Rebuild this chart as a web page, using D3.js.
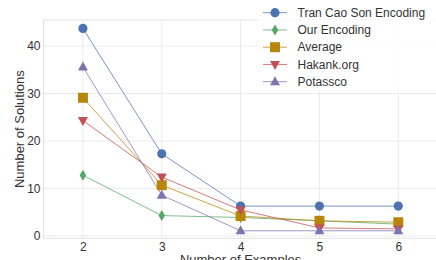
<!DOCTYPE html>
<html>
<head>
<meta charset="utf-8">
<script src="https://cdn.jsdelivr.net/npm/d3@7"></script>
<style>
  body { margin: 0; background: #fff; }
  svg { display: block; font-family: "Liberation Sans", Arial, sans-serif; }
</style>
</head>
<body>
<svg id="chart" width="436" height="260"></svg>
<script>
// data
var examples = [2, 3, 4, 5, 6]
var tranCaoSon = [43.7, 17.3, 6.3, 6.3, 6.3]
var ourEncoding = [12.8, 4.3, 3.9, 3.2, 2.5]
var average = [29.1, 10.7, 4.2, 3.2, 2.9]
var hakank = [24.3, 12.4, 5.5, 1.7, 1.5]
var potassco = [35.6, 8.6, 1.1, 1.1, 1.1]
var yTicks = [0, 10, 20, 30, 40]

var series = [
  { name: 'Tran Cao Son Encoding', values: tranCaoSon, color: '#4c72b0', shape: 'circle' },
  { name: 'Our Encoding', values: ourEncoding, color: '#55a868', shape: 'diamond' },
  { name: 'Average', values: average, color: '#b8860b', shape: 'square' },
  { name: 'Hakank.org', values: hakank, color: '#c44e52', shape: 'tridown' },
  { name: 'Potassco', values: potassco, color: '#8172b2', shape: 'triup' }
]

var svg = d3.select('#chart')
var pLeft = 43.5, pRight = 437.7, pTop = 20, pBottom = 238.3

var x = d3.scaleLinear().domain([1.5, 6.5]).range([pLeft, pRight])
var y = d3.scaleLinear().domain([-0.48, 45.47]).range([pBottom, pTop])

// background grid
var grid = svg.append('g')
grid.selectAll(null)
  .data(yTicks)
  .enter().append('line')
  .attr('x1', pLeft).attr('x2', pRight)
  .attr('y1', d => y(d)).attr('y2', d => y(d))
  .attr('stroke', '#ebebeb').attr('stroke-width', 1)
grid.selectAll(null)
  .data(examples)
  .enter().append('line')
  .attr('x1', d => x(d)).attr('x2', d => x(d))
  .attr('y1', pTop).attr('y2', pBottom)
  .attr('stroke', '#ebebeb').attr('stroke-width', 1)

svg.append('rect')
  .attr('x', pLeft).attr('y', pTop)
  .attr('width', pRight - pLeft).attr('height', pBottom - pTop)
  .attr('fill', 'none').attr('stroke', '#e3e3e3').attr('stroke-width', 1)

// axes
var xAxis = d3.axisBottom(x).tickValues(examples).tickFormat(d3.format('d')).tickSize(0).tickPadding(4)
var yAxis = d3.axisLeft(y).tickValues(yTicks).tickFormat(d3.format('d')).tickSize(0).tickPadding(3)

var gx = svg.append('g').attr('transform', 'translate(0,' + pBottom + ')').call(xAxis)
var gy = svg.append('g').attr('transform', 'translate(' + pLeft + ',0)').call(yAxis)
;[gx, gy].forEach(function(g) {
  g.select('.domain').remove()
  g.selectAll('text')
    .attr('font-size', 12)
    .attr('fill', '#333')
    .attr('font-family', '"Liberation Sans", Arial, sans-serif')
})

svg.append('text')
  .attr('x', (pLeft + pRight) / 2)
  .attr('y', 264)
  .attr('text-anchor', 'middle')
  .attr('font-size', 13)
  .attr('fill', '#333')
  .text('Number of Examples')

svg.append('text')
  .attr('transform', 'translate(24,' + (pTop + pBottom) / 2 + ')rotate(-90)')
  .attr('text-anchor', 'middle')
  .attr('font-size', 13)
  .attr('fill', '#333')
  .text('Number of Solutions')

function marker(shape) {
  if (shape === 'circle') return d3.symbol().type(d3.symbolCircle).size(66)()
  if (shape === 'square') return 'M-5,-5L5,-5L5,5L-5,5Z'
  if (shape === 'diamond') return 'M0,-5.5L3.3,0L0,5.5L-3.3,0Z'
  if (shape === 'triup') return 'M0,-5.5L5,3.5L-5,3.5Z'
  return 'M0,5.5L5,-3.5L-5,-3.5Z'
}

var line = d3.line().x((d, i) => x(examples[i])).y(d => y(d))

var plot = svg.append('g')
series.forEach(function(s) {
  plot.append('path')
    .attr('d', line(s.values))
    .attr('fill', 'none')
    .attr('stroke', s.color)
    .attr('stroke-opacity', 0.75)
    .attr('stroke-width', 1)
})
series.forEach(function(s) {
  plot.selectAll(null)
    .data(s.values)
    .enter().append('path')
    .attr('d', marker(s.shape))
    .attr('transform', (d, i) => 'translate(' + x(examples[i]) + ',' + y(d) + ')')
    .attr('fill', s.color)
})

// legend
var legend = svg.append('g')
legend.append('rect')
  .attr('x', 258).attr('y', 3)
  .attr('width', 178).attr('height', 88)
  .attr('fill', '#fff').attr('fill-opacity', 0.8)
var rows = legend.selectAll('g.row')
  .data(series)
  .enter().append('g')
  .attr('transform', (d, i) => 'translate(0,' + (12.7 + i * 17.25) + ')')
rows.append('line')
  .attr('x1', 263).attr('x2', 287)
  .attr('stroke', d => d.color).attr('stroke-opacity', 0.75)
rows.append('path')
  .attr('d', d => marker(d.shape))
  .attr('transform', 'translate(275,0)')
  .attr('fill', d => d.color)
rows.append('text')
  .attr('x', 297.5)
  .attr('dy', '0.35em')
  .attr('font-size', 12)
  .attr('fill', '#333')
  .text(d => d.name)
</script>
</body>
</html>
